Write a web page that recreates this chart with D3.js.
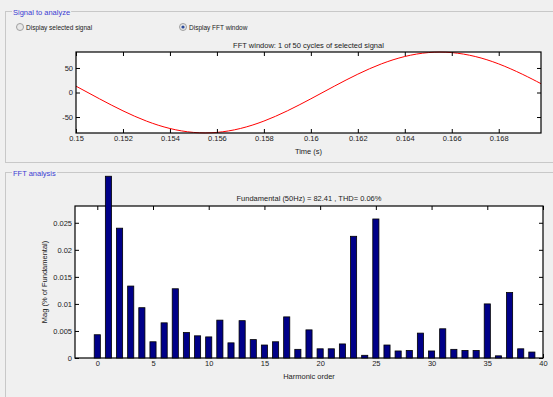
<!DOCTYPE html>
<html>
<head>
<meta charset="utf-8">
<script src="https://cdn.jsdelivr.net/npm/d3@7"></script>
<style>
    body { margin: 0; background: #f0f0f0; }
    svg { display: block; font-family: "Liberation Sans", Arial, sans-serif; }
</style>
</head>
<body>
<svg id="Target" width="553" height="397"></svg>
<script>
// signal samples (time in s)
var sigTime = [0.150, 0.151, 0.152, 0.153, 0.154, 0.155, 0.156, 0.157, 0.158, 0.159,
    0.160, 0.161, 0.162, 0.163, 0.164, 0.165, 0.166, 0.167, 0.168, 0.169, 0.1698];
var sigValue = [12.9, -12.9, -37.4, -58.3, -73.4, -81.4, -81.4, -73.4, -58.3, -37.4,
    -12.9, 12.9, 37.4, 58.3, 73.4, 81.4, 81.4, 73.4, 58.3, 37.4, 18.0];
var timeTicks = [0.15, 0.152, 0.154, 0.156, 0.158, 0.16, 0.162, 0.164, 0.166, 0.168];
var sigTicks = [-50, 0, 50];

// harmonic spectrum (% of fundamental)
var harmOrder = d3.range(0, 40);
var harmMag = [0.0043, 0.0336, 0.0240, 0.0133, 0.0093, 0.0030, 0.0065, 0.0128, 0.0047, 0.0041,
    0.0039, 0.0070, 0.0028, 0.0069, 0.0034, 0.0024, 0.0030, 0.0076, 0.0016, 0.0052,
    0.0017, 0.0017, 0.0026, 0.0225, 0.0005, 0.0257, 0.0024, 0.0013, 0.0014, 0.0046,
    0.0013, 0.0054, 0.0016, 0.0014, 0.0014, 0.0100, 0.0004, 0.0121, 0.0017, 0.0011];
var harmTicks = [0, 5, 10, 15, 20, 25, 30, 35, 40];
var magTicks = [0, 0.005, 0.01, 0.015, 0.02, 0.025];

var svg = d3.select("#Target");
var fontSize = 7.5;
var plain = function (d) { return String(+d.toFixed(3)); };

// group boxes
var groupBox = function (x, y, w, h, label) {
    svg.append("rect")
        .attr("x", x + 0.5).attr("y", y + 0.5)
        .attr("width", w).attr("height", h)
        .attr("fill", "none")
        .attr("stroke", "#c8c8c8");
    var t = svg.append("text")
        .attr("x", x + 8).attr("y", y + 3.5)
        .attr("font-size", fontSize)
        .attr("fill", "#3c3cd2")
        .text(label);
    var bb = t.node().getBBox();
    svg.append("rect")
        .attr("x", bb.x - 1).attr("y", y - 1)
        .attr("width", bb.width + 2).attr("height", 3)
        .attr("fill", "#f0f0f0");
    t.raise();
};
groupBox(5, 11, 560, 151, "Signal to analyze");
groupBox(5, 172, 560, 240, "FFT analysis");

// radio buttons
var radio = function (cx, label, checked) {
    svg.append("circle")
        .attr("cx", cx).attr("cy", 27).attr("r", 3.5)
        .attr("fill", "#e8e8e8").attr("stroke", "#a0a0a0");
    if (checked) {
        svg.append("circle")
            .attr("cx", cx).attr("cy", 27).attr("r", 1.6)
            .attr("fill", "#2a4a9a");
    }
    svg.append("text")
        .attr("x", cx + 6).attr("y", 29.5)
        .attr("font-size", 6.5)
        .attr("fill", "#222")
        .text(label);
};
radio(20, "Display selected signal", false);
radio(183, "Display FFT window", true);

// helper: inward ticks on all four sides
var boxAxes = function (g, x, y, w, h, xTicks, yTicks, xFmt, yFmt) {
    var tl = 4;
    g.append("g").attr("transform", "translate(0," + h + ")")
        .call(d3.axisBottom(x).tickValues(xTicks).tickSize(-tl).tickPadding(3).tickFormat(xFmt));
    g.append("g")
        .call(d3.axisTop(x).tickValues(xTicks).tickSize(-tl).tickFormat(""));
    g.append("g")
        .call(d3.axisLeft(y).tickValues(yTicks).tickSize(-tl).tickPadding(3).tickFormat(yFmt));
    g.append("g").attr("transform", "translate(" + w + ",0)")
        .call(d3.axisRight(y).tickValues(yTicks).tickSize(-tl).tickFormat(""));
    g.selectAll(".domain").remove();
    g.selectAll(".tick text").attr("font-size", fontSize).attr("fill", "#222")
        .attr("font-family", "Liberation Sans, Arial, sans-serif");
    g.selectAll(".tick line").attr("stroke", "#000");
    g.append("rect").attr("width", w).attr("height", h)
        .attr("fill", "none").attr("stroke", "#000").attr("stroke-width", 1.2);
};

// top plot: FFT window
var m1 = { left: 76, top: 52, width: 465, height: 81 };
var x1 = d3.scaleLinear().domain([0.15, 0.1698]).range([0, m1.width]);
var y1 = d3.scaleLinear().domain([-82.6, 82.6]).range([m1.height, 0]);
var g1 = svg.append("g").attr("transform", "translate(" + m1.left + "," + m1.top + ")");
g1.append("rect").attr("width", m1.width).attr("height", m1.height).attr("fill", "#fff");
var line = d3.line()
    .x(function (d, i) { return x1(sigTime[i]); })
    .y(function (d) { return y1(d); })
    .curve(d3.curveNatural);
g1.append("path")
    .attr("d", line(sigValue))
    .attr("fill", "none")
    .attr("stroke", "#f00")
    .attr("stroke-width", 1);
boxAxes(g1, x1, y1, m1.width, m1.height, timeTicks, sigTicks, plain, plain);
g1.append("text")
    .attr("x", m1.width / 2).attr("y", -4)
    .attr("text-anchor", "middle").attr("font-size", fontSize).attr("fill", "#222")
    .text("FFT window: 1 of 50 cycles of selected signal");
g1.append("text")
    .attr("x", m1.width / 2).attr("y", m1.height + 21)
    .attr("text-anchor", "middle").attr("font-size", fontSize).attr("fill", "#222")
    .text("Time (s)");

// bottom plot: harmonic spectrum
var m2 = { left: 75, top: 206, width: 468, height: 152 };
var x2 = d3.scaleLinear().domain([-2, 40]).range([0, m2.width]);
var y2 = d3.scaleLinear().domain([0, 0.0281]).range([m2.height, 0]);
var g2 = svg.append("g").attr("transform", "translate(" + m2.left + "," + m2.top + ")");
g2.append("rect").attr("width", m2.width).attr("height", m2.height).attr("fill", "#fff");
boxAxes(g2, x2, y2, m2.width, m2.height, harmTicks, magTicks, plain, plain);
var barW = (x2(1) - x2(0)) * 0.55;
g2.selectAll("rect.bar")
    .data(harmMag)
    .enter()
    .append("rect")
    .attr("class", "bar")
    .attr("x", function (d, i) { return x2(harmOrder[i]) - barW / 2; })
    .attr("y", function (d) { return y2(d); })
    .attr("width", barW)
    .attr("height", function (d) { return m2.height - y2(d); })
    .attr("fill", "#000088")
    .attr("stroke", "#000")
    .attr("stroke-width", 0.8);
g2.append("text")
    .attr("x", m2.width / 2).attr("y", -5)
    .attr("text-anchor", "middle").attr("font-size", fontSize).attr("fill", "#222")
    .text("Fundamental (50Hz) = 82.41 , THD= 0.06%");
g2.append("text")
    .attr("x", m2.width / 2).attr("y", m2.height + 21)
    .attr("text-anchor", "middle").attr("font-size", fontSize).attr("fill", "#222")
    .text("Harmonic order");
g2.append("text")
    .attr("transform", "translate(-28," + (m2.height / 2) + ") rotate(-90)")
    .attr("text-anchor", "middle").attr("font-size", fontSize).attr("fill", "#222")
    .text("Mag (% of Fundamental)");
</script>
</body>
</html>
